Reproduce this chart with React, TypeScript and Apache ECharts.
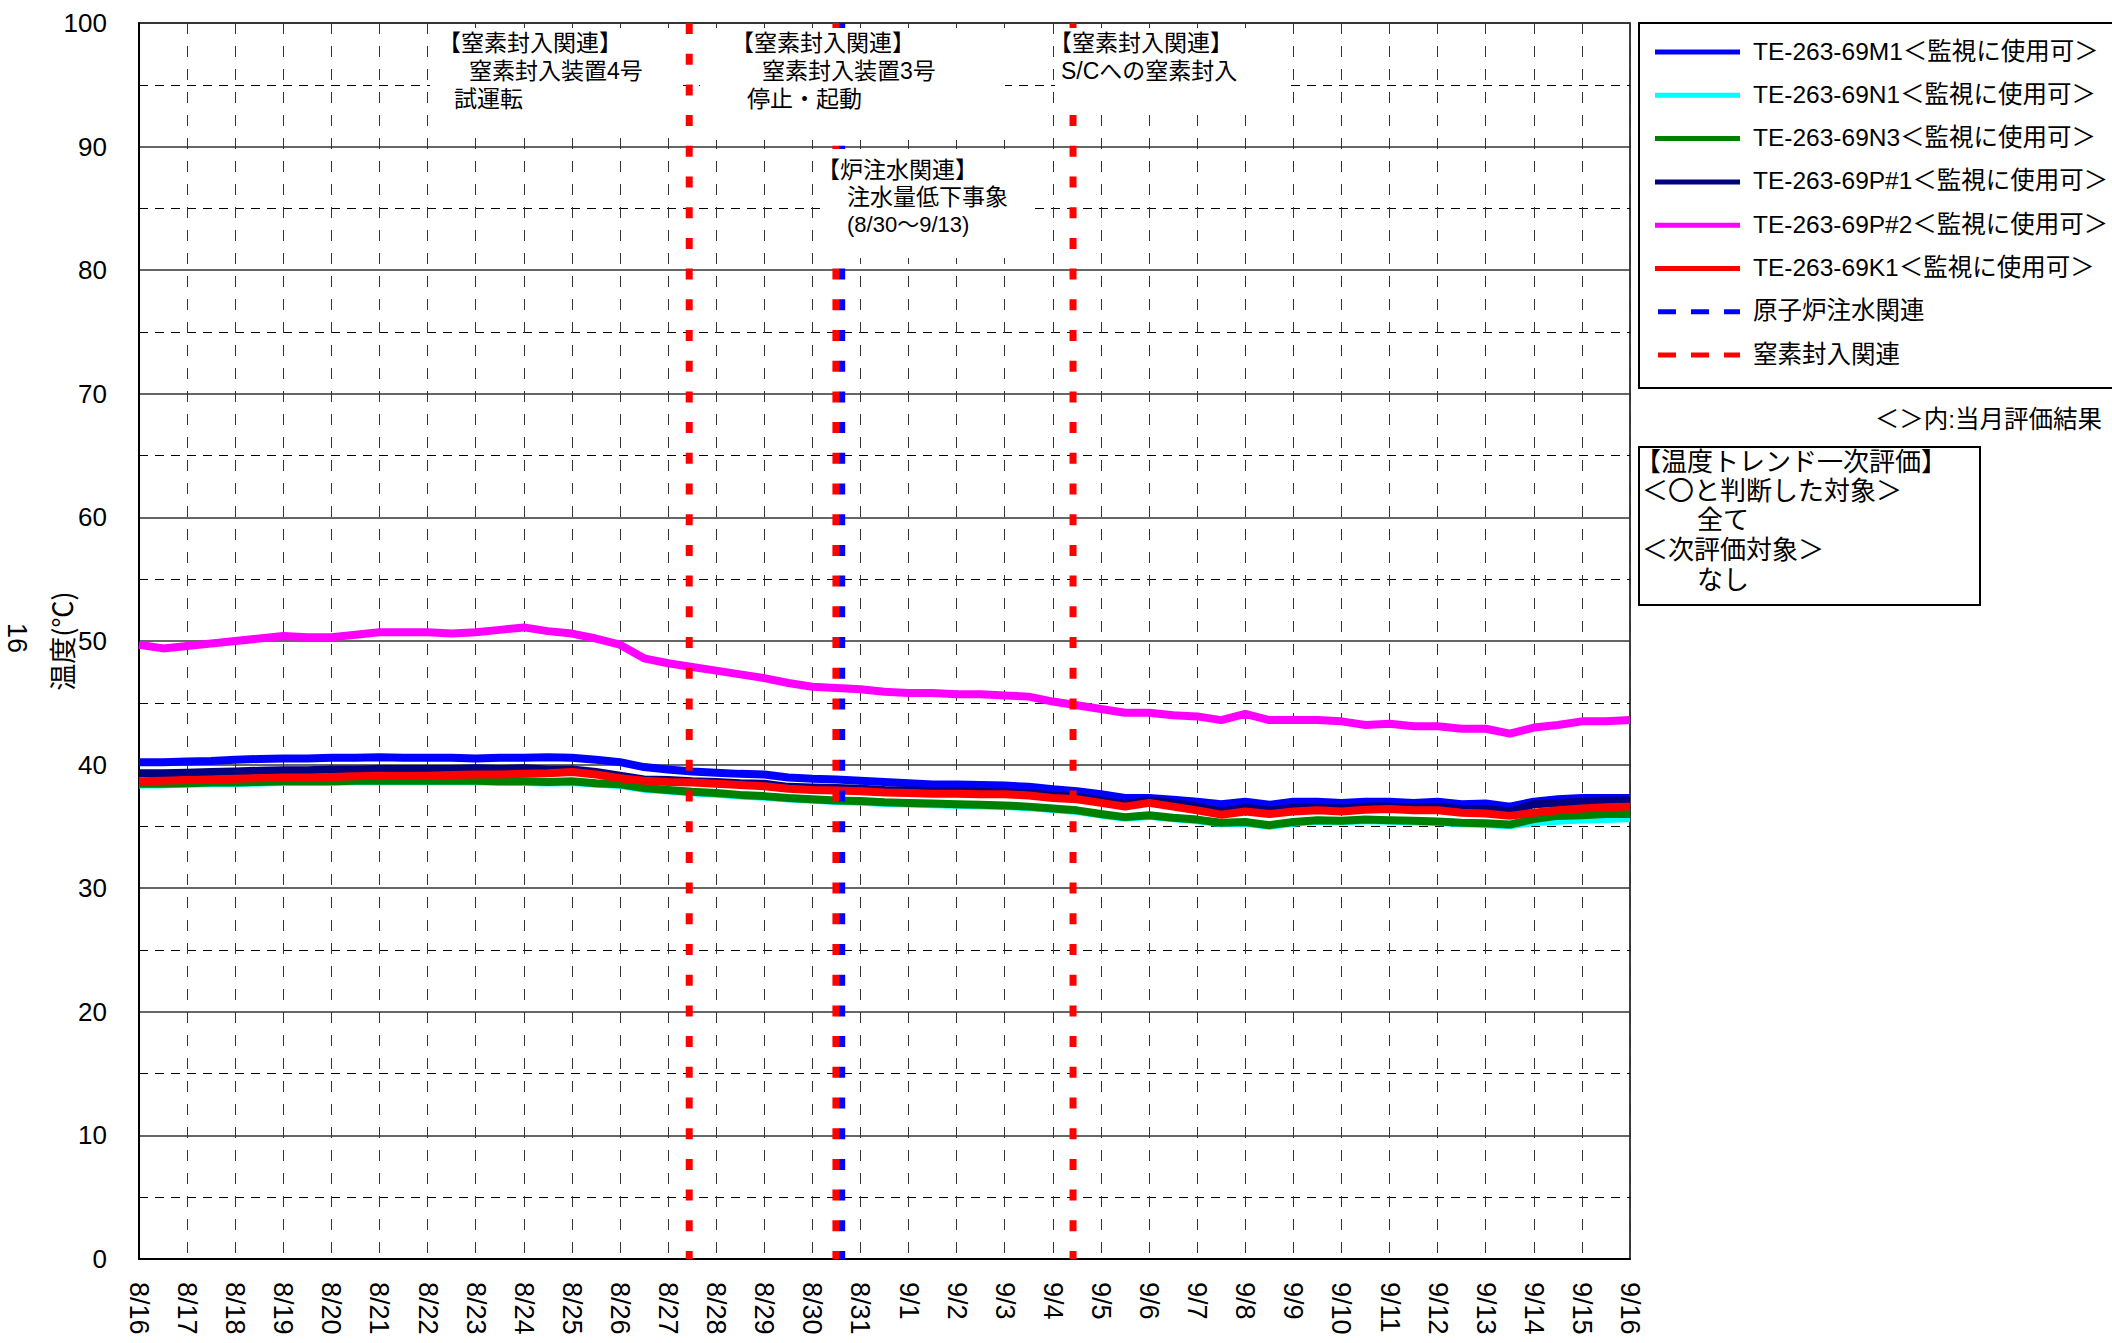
import React, { useEffect, useRef } from 'react';
import * as echarts from 'echarts';

// ---- data ----
const dateLabels = ['8/16','8/17','8/18','8/19','8/20','8/21','8/22','8/23','8/24','8/25','8/26','8/27','8/28','8/29','8/30','8/31','9/1','9/2','9/3','9/4','9/5','9/6','9/7','9/8','9/9','9/10','9/11','9/12','9/13','9/14','9/15','9/16'];

const SAMPLE_STEP_DAYS = 0.5; // readings every 12 h starting 8/16 0:00

const m1 = [40.2,40.2,40.25,40.3,40.4,40.45,40.5,40.5,40.55,40.55,
  40.6,40.55,40.55,40.55,40.5,40.55,40.55,40.6,40.55,40.4,
  40.2,39.8,39.6,39.45,39.35,39.25,39.2,38.95,38.85,38.8,
  38.7,38.6,38.5,38.4,38.4,38.35,38.3,38.2,38.0,37.85,
  37.6,37.3,37.3,37.15,37.0,36.8,37.0,36.75,37.0,37.0,
  36.9,37.0,37.0,36.9,37.0,36.8,36.85,36.6,37.0,37.2,
  37.3,37.3,37.3];
const n1 = [38.4,38.4,38.45,38.5,38.5,38.55,38.6,38.6,38.6,38.65,
  38.65,38.65,38.65,38.65,38.65,38.6,38.6,38.55,38.6,38.45,
  38.35,38.05,37.9,37.75,37.65,37.5,37.4,37.25,37.15,37.05,
  37.0,36.9,36.85,36.8,36.75,36.7,36.65,36.55,36.4,36.25,
  35.95,35.7,35.85,35.65,35.5,35.25,35.3,35.05,35.3,35.45,
  35.4,35.5,35.45,35.4,35.35,35.25,35.2,35.1,35.35,35.45,
  35.55,35.6,35.65];
const n3 = [38.45,38.45,38.5,38.55,38.55,38.6,38.65,38.65,38.65,38.7,
  38.7,38.7,38.7,38.7,38.7,38.65,38.65,38.6,38.65,38.5,
  38.4,38.1,37.95,37.8,37.7,37.55,37.45,37.3,37.2,37.1,
  37.05,36.95,36.9,36.85,36.8,36.75,36.7,36.6,36.45,36.3,
  36.0,35.75,35.9,35.7,35.55,35.3,35.35,35.1,35.35,35.5,
  35.45,35.55,35.5,35.45,35.4,35.3,35.25,35.15,35.6,35.85,
  35.9,36.0,36.0];
const p1 = [39.3,39.3,39.35,39.4,39.45,39.5,39.55,39.55,39.6,39.6,
  39.65,39.65,39.65,39.65,39.7,39.65,39.7,39.6,39.6,39.4,
  39.1,38.8,38.75,38.65,38.6,38.5,38.45,38.2,38.15,38.1,
  38.05,37.95,37.9,37.85,37.85,37.8,37.75,37.7,37.5,37.4,
  37.1,36.8,37.1,36.9,36.6,36.2,36.5,36.3,36.5,36.5,
  36.45,36.6,36.6,36.5,36.55,36.4,36.4,36.2,36.8,36.9,
  37.0,37.1,37.1];
const p2 = [49.7,49.4,49.6,49.8,50.0,50.2,50.4,50.3,50.3,50.5,
  50.7,50.7,50.7,50.6,50.7,50.9,51.1,50.8,50.6,50.2,
  49.7,48.6,48.2,47.9,47.6,47.3,47.0,46.6,46.3,46.2,
  46.1,45.9,45.8,45.8,45.7,45.7,45.6,45.5,45.1,44.8,
  44.5,44.2,44.2,44.0,43.9,43.6,44.1,43.6,43.6,43.6,
  43.5,43.2,43.3,43.1,43.1,42.9,42.9,42.5,43.0,43.2,
  43.5,43.5,43.6];
const k1 = [38.65,38.7,38.75,38.8,38.85,38.9,38.95,38.95,39.0,39.05,
  39.1,39.1,39.1,39.15,39.2,39.2,39.25,39.3,39.4,39.2,
  38.9,38.7,38.6,38.55,38.45,38.35,38.25,38.05,37.95,37.9,
  37.85,37.75,37.7,37.65,37.65,37.6,37.6,37.5,37.3,37.2,
  36.9,36.6,36.9,36.6,36.3,35.95,36.2,36.0,36.2,36.3,
  36.2,36.35,36.4,36.3,36.3,36.1,36.05,35.85,36.1,36.3,
  36.45,36.55,36.6];

const seriesNames = [
  'TE-263-69M1＜監視に使用可＞',
  'TE-263-69N1＜監視に使用可＞',
  'TE-263-69N3＜監視に使用可＞',
  'TE-263-69P#1＜監視に使用可＞',
  'TE-263-69P#2＜監視に使用可＞',
  'TE-263-69K1＜監視に使用可＞',
];
const seriesValues = [m1, n1, n3, p1, p2, k1];
const seriesColors = ['#0000FF', '#00FFFF', '#008000', '#000080', '#FF00FF', '#FF0000'];

// event days (offset in days from 8/16 0:00)
const nitrogenEventDays = [11.44, 14.49, 19.42];
const waterEventDays = [14.62];
const nitrogenEventName = '窒素封入関連';
const waterEventName = '原子炉注水関連';

const JP = '"Liberation Sans", "Noto Sans CJK JP", "Noto Sans CJK SC", sans-serif';
const JPONLY = '"Noto Sans CJK JP", "Noto Sans CJK SC", sans-serif';
const LAT = '"Liberation Sans", Arial, sans-serif';

function txt(text: string, x: number, y: number, size: number, extra: any = {}) {
  return {
    type: 'text', x, y, z: 20,
    style: { text, fill: '#000', fontSize: size, fontFamily: JP, lineHeight: size + 2, verticalAlign: 'middle', align: 'left', ...(extra.style || {}) },
    ...(extra.el || {}),
  };
}

// white backing behind the annotation texts (hides grid and event lines there)
function whiteBox(x: number, y: number, w: number, h: number) {
  return { type: 'rect', z: 15, shape: { x, y, width: w, height: h }, style: { fill: '#fff', stroke: null } };
}

export default function App() {
  const ref = useRef<HTMLDivElement>(null);
  useEffect(() => {
    const chart = echarts.init(ref.current!, null, { renderer: 'svg' });

    const tempSeries = seriesValues.map((vals, i) => ({
      type: 'line',
      name: seriesNames[i],
      data: vals.map((v, j) => [j * SAMPLE_STEP_DAYS, v]),
      symbol: 'none',
      showSymbol: false,
      lineStyle: { color: seriesColors[i], width: 8 },
      itemStyle: { color: seriesColors[i] },
      z: 3,
      silent: true,
    }));

    const n2Series = nitrogenEventDays.map((d) => ({
      type: 'line',
      name: nitrogenEventName,
      data: [[d, 100], [d, 0]],
      symbol: 'none',
      lineStyle: { color: '#FF0000', width: 7, type: [11, 19.7] },
      z: 6,
      silent: true,
    }));
    const waterSeries = waterEventDays.map((d) => ({
      type: 'line',
      name: waterEventName,
      data: [[d, 100], [d, 0]],
      symbol: 'none',
      lineStyle: { color: '#0000FF', width: 6, type: [11, 19.7] },
      z: 7,
      silent: true,
    }));

    const legendItems = [
      ...seriesNames.map((n, i) => ({ name: n, color: seriesColors[i], dashed: false })),
      { name: waterEventName, color: '#0000FF', dashed: true },
      { name: nitrogenEventName, color: '#FF0000', dashed: true },
    ];
    const legendY0 = 51;
    const legendDy = 43.3;
    const legendGraphics: any[] = [
      { type: 'rect', z: 10, shape: { x: 1639, y: 23, width: 520, height: 365 }, style: { fill: '#fff', stroke: '#000', lineWidth: 2 } },
    ];
    legendItems.forEach((it, i) => {
      const y = legendY0 + i * legendDy;
      legendGraphics.push({
        type: 'line', z: 11,
        shape: { x1: it.dashed ? 1658 : 1655, y1: y + 1, x2: 1740, y2: y + 1 },
        style: { stroke: it.color, lineWidth: 5, lineDash: it.dashed ? [18, 15] : null },
      });
      legendGraphics.push(txt(it.name, 1753, y, 24.5));
    });

    const graphic: any[] = [
      whiteBox(430, 28, 252, 105),
      whiteBox(700, 28, 305, 112),
      whiteBox(1055, 28, 230, 84),
      whiteBox(822, 149, 213, 109),
      // annotations
      txt('【窒素封入関連】', 438, 43, 23),
      txt('窒素封入装置4号', 469, 71, 23),
      txt('試運転', 454, 99, 23),
      txt('【窒素封入関連】', 731, 43, 23),
      txt('窒素封入装置3号', 762, 71, 23),
      txt('停止・起動', 747, 99, 23),
      txt('【炉注水関連】', 817, 170, 23),
      txt('注水量低下事象', 847, 197, 23),
      txt('(8/30〜9/13)', 847, 224, 22),
      txt('【窒素封入関連】', 1049, 43, 23),
      txt('S/Cへの窒素封入', 1061, 71, 23),
      ...legendGraphics,
      txt('＜＞内:当月評価結果', 2102, 419, 24.5, { style: { align: 'right' } }),
      { type: 'rect', z: 10, shape: { x: 1639, y: 447, width: 341, height: 158 }, style: { fill: '#fff', stroke: '#000', lineWidth: 2 } },
      txt('【温度トレンド一次評価】', 1635, 462, 26, { style: { lineHeight: 28 } }),
      txt('＜〇と判断した対象＞', 1642, 491, 26, { style: { lineHeight: 28 } }),
      txt('全て', 1697, 520, 26, { style: { lineHeight: 28 } }),
      txt('＜次評価対象＞', 1642, 550, 26, { style: { lineHeight: 28 } }),
      txt('なし', 1697, 580, 26, { style: { lineHeight: 28 } }),
      {
        type: 'text', x: 17, y: 638, rotation: -Math.PI / 2, z: 20,
        style: { text: '16', fill: '#000', fontSize: 27, fontFamily: LAT, align: 'center', verticalAlign: 'middle' },
      },
    ];

    const option: any = {
      animation: false,
      backgroundColor: '#ffffff',
      grid: { left: 139, top: 23, right: 482, bottom: 84, show: true, borderColor: '#000', borderWidth: 1.5, backgroundColor: 'transparent' },
      xAxis: {
        type: 'value', min: 0, max: 31, interval: 1,
        axisLine: { show: true, lineStyle: { color: '#000', width: 2 } },
        axisTick: { show: false },
        axisLabel: {
          rotate: -90, margin: 23, fontSize: 27, fontFamily: LAT, color: '#000',
          formatter: (v: number) => dateLabels[Math.round(v)] ?? '',
        },
        splitLine: { show: true, lineStyle: { color: '#333', width: 1, type: [11, 12] } },
      },
      yAxis: {
        type: 'value', min: 0, max: 100, interval: 10,
        name: '温度(℃)', nameLocation: 'middle', nameGap: 64, nameRotate: 90, nameMoveOverlap: false,
        nameTextStyle: { fontSize: 27, fontFamily: JPONLY, color: '#000' },
        axisLine: { show: true, lineStyle: { color: '#000', width: 2 } },
        axisTick: { show: false },
        axisLabel: { margin: 32, fontSize: 26, fontFamily: LAT, color: '#000' },
        splitLine: { show: true, lineStyle: { color: '#333', width: 1.5 } },
        minorTick: { show: false, splitNumber: 2 },
        minorSplitLine: { show: true, lineStyle: { color: '#000', width: 1, type: [9, 7] } },
      },
      series: [...tempSeries, ...n2Series, ...waterSeries],
      graphic,
    };
    chart.setOption(option);
    return () => chart.dispose();
  }, []);
  return <div ref={ref} style={{ position: 'fixed', left: 0, top: 0, width: 2112, height: 1343, background: '#fff' }} />;
}
